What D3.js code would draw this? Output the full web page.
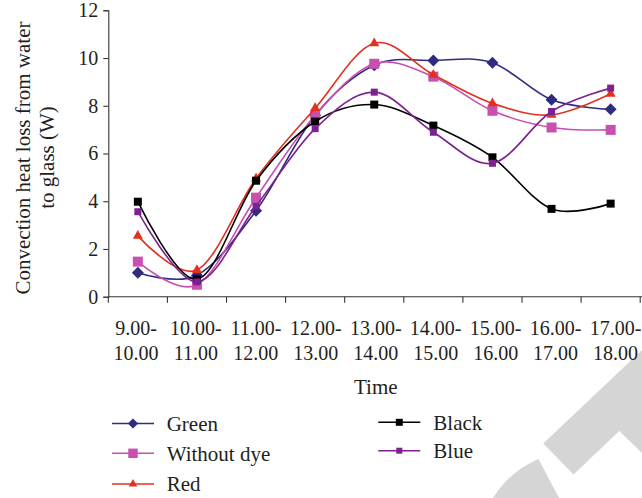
<!DOCTYPE html>
<html>
<head>
<meta charset="utf-8">
<script src="https://cdn.jsdelivr.net/npm/d3@7"></script>
<style>
  html, body { margin: 0; padding: 0; background: #fff; }
  svg { display: block; }
  text { font-family: "Liberation Serif", "DejaVu Serif", serif; fill: #231f20; }
</style>
</head>
<body>
<svg id="chart" width="642" height="498"></svg>
<script>
const categories = ["9.00-10.00", "10.00-11.00", "11.00-12.00", "12.00-13.00", "13.00-14.00",
                    "14.00-15.00", "15.00-16.00", "16.00-17.00", "17.00-18.00"];
const green      = [1.0, 0.9, 3.6, 7.6, 9.7, 9.9, 9.8, 8.25, 7.85];
const withoutDye = [1.47, 0.5, 4.15, 7.6, 9.76, 9.22, 7.79, 7.09, 6.99];
const red        = [2.55, 1.12, 4.95, 7.9, 10.62, 9.3, 8.1, 7.62, 8.5];
const black      = [3.98, 0.73, 4.86, 7.34, 8.05, 7.17, 5.84, 3.68, 3.9];
const blue       = [3.56, 0.62, 3.8, 7.04, 8.57, 6.89, 5.59, 7.76, 8.74];
const yTicks     = [0, 2, 4, 6, 8, 10, 12];

const seriesNames  = ["Green", "Without dye", "Red", "Black", "Blue"];
const seriesValues = [green, withoutDye, red, black, blue];
const seriesColors = ["#2e2b80", "#c850b0", "#e3301f", "#000000", "#7d2190"];

// square diamond (rotated square)
const diamond = {
  draw(ctx, size) {
    const r = Math.sqrt(size / 2);
    ctx.moveTo(0, -r); ctx.lineTo(r, 0); ctx.lineTo(0, r); ctx.lineTo(-r, 0); ctx.closePath();
  }
};
const seriesSymbols = [diamond, d3.symbolSquare, d3.symbolTriangle, d3.symbolSquare, d3.symbolSquare];
const markerSize   = [72, 100, 44, 64, 49];
const legendSize   = [52, 90, 32, 49, 36];

const svg = d3.select("#chart");

// watermark shapes (background)
svg.append("path")
  .attr("d", "M642,350 L543.3,443.5 L573.5,474.5 L619.3,431 L642,453 Z")
  .attr("fill", "#d5d5d5");
svg.append("path")
  .attr("d", "M493,498 Q510,471 538.5,459 L559,498 Z")
  .attr("fill", "#d5d5d5");

const x = d3.scaleBand().domain(categories).range([108.3, 640.2]).padding(0);
const xLabel = d3.scaleBand().domain(categories).range([106, 645.5]).padding(0);
const y = d3.scaleLinear().domain([0, 12]).range([296.7, 10.3]);

const axisColor = "#333";

// Y axis
const yAxis = svg.append("g").attr("transform", "translate(108.3,0)")
  .call(d3.axisLeft(y).tickValues(yTicks).tickSize(5).tickPadding(6).tickFormat(d3.format("d")));
yAxis.select(".domain").attr("stroke", axisColor).attr("stroke-width", 1.1);
yAxis.selectAll(".tick line").attr("stroke", axisColor).attr("stroke-width", 1.1);
yAxis.selectAll(".tick text").attr("font-size", 20).attr("fill", "#231f20")
  .attr("font-family", "Liberation Serif, serif").attr("x", -10);

// X axis line and ticks at band boundaries
const xg = svg.append("g");
xg.append("line").attr("x1", x.range()[0]).attr("x2", 642).attr("y1", y(0)).attr("y2", y(0))
  .attr("stroke", axisColor).attr("stroke-width", 1.1);
const bounds = categories.map(c => x(c)).concat([x(categories[categories.length - 1]) + x.bandwidth()]);
xg.selectAll("line.tk").data(bounds).enter().append("line").attr("class", "tk")
  .attr("x1", d => d).attr("x2", d => d).attr("y1", y(0)).attr("y2", y(0) + 6)
  .attr("stroke", axisColor).attr("stroke-width", 1.1);

// X tick labels (two lines)
const lab = xg.selectAll("text.xl").data(categories).enter().append("text").attr("class", "xl")
  .attr("text-anchor", "middle").attr("font-size", 20);
lab.append("tspan").attr("x", d => xLabel(d) + xLabel.bandwidth() / 2).attr("y", 335)
  .text(d => d.split("-")[0] + "-");
lab.append("tspan").attr("x", d => xLabel(d) + xLabel.bandwidth() / 2).attr("y", 359.5)
  .text(d => d.split("-")[1]);

// Axis titles
svg.append("text").attr("x", 375.8).attr("y", 394.3).attr("text-anchor", "middle")
  .attr("font-size", 21).text("Time");
svg.append("text").attr("transform", "translate(30,158) rotate(-90)").attr("text-anchor", "middle")
  .attr("font-size", 21).text("Convection heat loss from water");
svg.append("text").attr("transform", "translate(54,157.5) rotate(-90)").attr("text-anchor", "middle")
  .attr("font-size", 21).text("to glass (W)");

// Series
const cx = c => x(c) + x.bandwidth() / 2;
const line = d3.line().x(d => cx(d.c)).y(d => y(d.v)).curve(d3.curveCardinal.tension(0));

seriesValues.forEach((vals, i) => {
  const pts = vals.map((v, j) => ({ c: categories[j], v }));
  const g = svg.append("g");
  g.append("path").datum(pts).attr("d", line).attr("fill", "none")
    .attr("stroke", seriesColors[i]).attr("stroke-width", 1.6);
  g.selectAll("path.m").data(pts).enter().append("path").attr("class", "m")
    .attr("transform", d => `translate(${cx(d.c)},${y(d.v)})`)
    .attr("d", d3.symbol().type(seriesSymbols[i]).size(markerSize[i]))
    .attr("fill", seriesColors[i]);
});

// Legend
const legendPos = [
  { lx: 112, ly: 423.5, tx: 166.7, ty: 431 },
  { lx: 112, ly: 453.3, tx: 166.7, ty: 460.5 },
  { lx: 112, ly: 484, tx: 166.7, ty: 491 },
  { lx: 378.3, ly: 422.3, tx: 433.3, ty: 429.5 },
  { lx: 378.3, ly: 450.7, tx: 433.3, ty: 458 }
];
seriesNames.forEach((name, i) => {
  const p = legendPos[i];
  const g = svg.append("g");
  g.append("line").attr("x1", p.lx).attr("x2", p.lx + 42).attr("y1", p.ly).attr("y2", p.ly)
    .attr("stroke", seriesColors[i]).attr("stroke-width", 1.6);
  g.append("path").attr("transform", `translate(${p.lx + 21},${p.ly})`)
    .attr("d", d3.symbol().type(seriesSymbols[i]).size(legendSize[i]))
    .attr("fill", seriesColors[i]);
  g.append("text").attr("x", p.tx).attr("y", p.ty).attr("font-size", 21).text(name);
});
</script>
</body>
</html>
